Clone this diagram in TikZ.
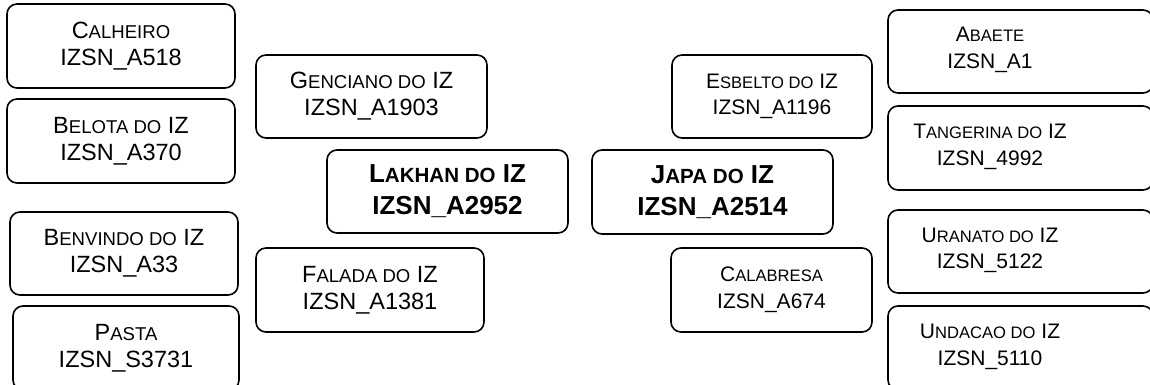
\documentclass[tikz,border=0pt]{standalone}
\usepackage{fontspec}
\setmainfont{Liberation Sans}
\makeatletter
\newcommand\smc[1]{{\fontsize{\fpeval{0.79*\f@size}}{\f@baselineskip}\selectfont #1}}
\makeatother
\tikzset{
  box/.style={draw=black, line width=1.6pt, rounded corners=10pt, rectangle,
    align=center, inner sep=0pt, font=\fontsize{23.5}{27}\selectfont},
  boldbox/.style={box, font=\fontsize{26}{32}\selectfont\bfseries},
  rbox/.style={box, font=\fontsize{21}{26.5}\selectfont},
  txt/.style={align=center, inner sep=0pt, font=\fontsize{21}{26.5}\selectfont}
}
\begin{document}
\begin{tikzpicture}[x=1pt,y=-1pt]
\useasboundingbox (0,0) rectangle (1150,385);
\clip (0,0) rectangle (1150,385);
% left column
\node[box, minimum width=228pt, minimum height=84pt] (calheiro) at (121,46) {C\smc{ALHEIRO}\\IZSN\_A518};
\node[box, minimum width=228pt, minimum height=84pt] (belota) at (121,141) {B\smc{ELOTA DO} IZ\\IZSN\_A370};
\node[box, minimum width=228pt, minimum height=83pt] (benvindo) at (124,253.5) {B\smc{ENVINDO DO} IZ\\IZSN\_A33};
\node[box, minimum width=226pt, minimum height=84pt] (pasta) at (126,348) {P\smc{ASTA}\\IZSN\_S3731};
% inner left
\node[box, minimum width=231pt, minimum height=83pt] (genciano) at (371.5,96.5) {G\smc{ENCIANO DO} IZ\\IZSN\_A1903};
\node[boldbox, minimum width=241pt, minimum height=83pt] (lakhan) at (447.5,191.5) {L\smc{AKHAN DO} IZ\\IZSN\_A2952};
\node[box, minimum width=228pt, minimum height=84pt] (falada) at (370,290) {F\smc{ALADA DO} IZ\\IZSN\_A1381};
% inner right
\node[boldbox, minimum width=241pt, minimum height=84pt] (japa) at (712.5,192) {J\smc{APA DO} IZ\\IZSN\_A2514};
\node[rbox, minimum width=200pt, minimum height=83pt] (esbelto) at (772,96.5) {E\smc{SBELTO DO} IZ\\IZSN\_A1196};
\node[rbox, minimum width=201pt, minimum height=84pt] (calabresa) at (771.5,290) {C\smc{ALABRESA}\\IZSN\_A674};
% right column (cut off at the right edge)
\node[box, minimum width=265pt, minimum height=83pt] (abaete) at (1020.5,51.5) {};
\node[txt] (abaetet) at (990,50) {A\smc{BAETE}\\IZSN\_A1};
\node[box, minimum width=265pt, minimum height=84pt] (tangerina) at (1020.5,148) {};
\node[txt] (tangerinat) at (990,147) {T\smc{ANGERINA DO} IZ\\IZSN\_4992};
\node[box, minimum width=265pt, minimum height=83pt] (uranato) at (1020.5,251.5) {};
\node[txt] (uranatot) at (990,250.5) {U\smc{RANATO DO} IZ\\IZSN\_5122};
\node[box, minimum width=265pt, minimum height=84pt] (undacao) at (1020.5,348) {};
\node[txt] (undacaot) at (990,347) {U\smc{NDACAO DO} IZ\\IZSN\_5110};
\end{tikzpicture}
\end{document}
